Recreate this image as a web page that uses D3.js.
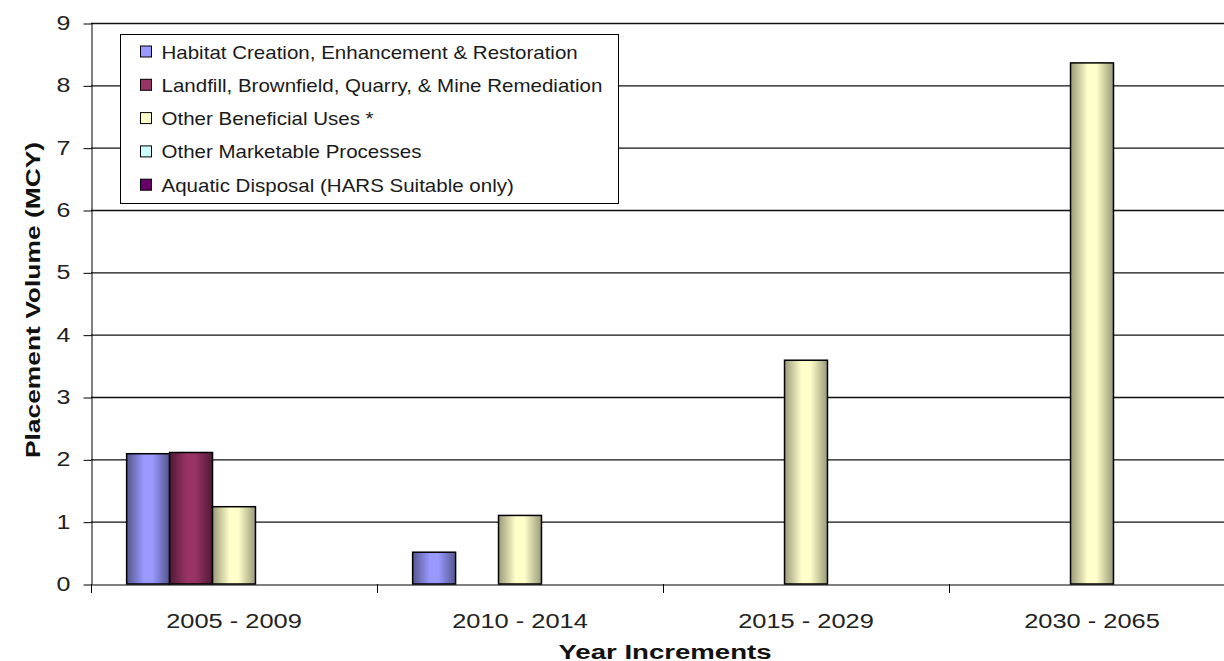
<!DOCTYPE html>
<html>
<head>
<meta charset="utf-8">
<script src="https://cdn.jsdelivr.net/npm/d3@7"></script>
<style>
  body { margin: 0; background: #fff; }
  svg { display: block; font-family: Arial, "Liberation Sans", sans-serif; }
</style>
</head>
<body>
<div id="chart"></div>
<script>
// categories and series
var categories = ["2005 - 2009", "2010 - 2014", "2015 - 2029", "2030 - 2065"];
var seriesNames = [
  "Habitat Creation, Enhancement & Restoration",
  "Landfill, Brownfield, Quarry, & Mine Remediation",
  "Other Beneficial Uses *",
  "Other Marketable Processes",
  "Aquatic Disposal (HARS Suitable only)"
];
var habitat = [2.09, 0.51, 0, 0];
var landfill = [2.11, 0, 0, 0];
var otherBeneficial = [1.24, 1.10, 3.59, 8.36];
var otherMarketable = [0, 0, 0, 0];
var aquatic = [0, 0, 0, 0];
var yTicks = [0, 1, 2, 3, 4, 5, 6, 7, 8, 9];

var seriesValues = [habitat, landfill, otherBeneficial, otherMarketable, aquatic];
var colors = ["#9999ff", "#993366", "#ffffcc", "#ccffff", "#660066"];
var edgeColors = ["#55558f", "#4f1a35", "#9a9a78", "#7a9999", "#330033"];

var svgWidth = 1224, svgHeight = 661;
var margin = { top: 23, left: 91 };
var plotBottom = 584;
var plotRight = 1235; // the last category runs past the picture's edge

var svg = d3.select("#chart").append("svg")
  .attr("width", svgWidth)
  .attr("height", svgHeight);

// the source text is rendered wider than Arial, so stretch it sideways
function stretch(sel, s) {
  sel.each(function () {
    var t = d3.select(this);
    var x = +t.attr("x") || 0;
    var prev = t.attr("transform") || "";
    t.attr("transform", `${prev} translate(${x * (1 - s)},0) scale(${s},1)`);
  });
}

// gradients to mimic the shaded bars
var defs = svg.append("defs");
colors.forEach(function (c, i) {
  var g = defs.append("linearGradient")
    .attr("id", "grad" + i)
    .attr("x1", "0%").attr("x2", "100%").attr("y1", "0%").attr("y2", "0%");
  g.append("stop").attr("offset", "0%").attr("stop-color", edgeColors[i]);
  g.append("stop").attr("offset", "40%").attr("stop-color", c);
  g.append("stop").attr("offset", "60%").attr("stop-color", c);
  g.append("stop").attr("offset", "100%").attr("stop-color", edgeColors[i]);
});

var y = d3.scaleLinear().domain([0, 9]).range([plotBottom, margin.top]);
var x0 = d3.scaleBand().domain(categories).range([margin.left, plotRight])
  .paddingInner(0).paddingOuter(0);
var x1 = d3.scaleBand().domain(d3.range(seriesNames.length))
  .range([0, x0.bandwidth()]).paddingOuter(0.83).paddingInner(0);

// gridlines
svg.append("g").selectAll("line")
  .data(yTicks.slice(1))
  .enter().append("line")
  .attr("x1", margin.left).attr("x2", plotRight)
  .attr("y1", d => y(d) + 0.5).attr("y2", d => y(d) + 0.5)
  .attr("stroke", "#111").attr("stroke-width", 1.3);

// y axis
var yAxis = svg.append("g")
  .attr("transform", `translate(${margin.left + 0.5},0)`)
  .call(d3.axisLeft(y).tickValues(yTicks).tickSize(8).tickPadding(13).tickSizeOuter(0));
yAxis.select(".domain").attr("stroke", "#000");
yAxis.selectAll(".tick line").attr("stroke", "#000").attr("transform", "translate(0,0.5)");
yAxis.selectAll("text")
  .attr("font-size", "20px").attr("fill", "#222")
  .attr("font-family", "Arial, 'Liberation Sans', sans-serif")
  .call(stretch, 1.25);

// bars
var groups = svg.append("g").selectAll("g")
  .data(categories)
  .enter().append("g")
  .attr("transform", d => `translate(${x0(d)},0)`);

groups.selectAll("rect")
  .data(function (d, ci) {
    return seriesValues.map(function (vals, si) { return { s: si, v: vals[ci] }; });
  })
  .enter()
  .filter(d => d.v > 0)
  .append("rect")
  .attr("x", d => x1(d.s))
  .attr("y", d => y(d.v))
  .attr("width", x1.bandwidth())
  .attr("height", d => y(0) - y(d.v))
  .attr("fill", d => `url(#grad${d.s})`)
  .attr("stroke", "#000")
  .attr("stroke-width", 1.5);

// x axis
var xAxis = svg.append("g")
  .attr("transform", `translate(0,${plotBottom + 0.5})`)
  .call(d3.axisBottom(x0).tickSize(0).tickPadding(29));
xAxis.select(".domain").attr("stroke", "#000");
xAxis.selectAll("text")
  .attr("font-size", "20px").attr("fill", "#222")
  .attr("font-family", "Arial, 'Liberation Sans', sans-serif")
  .call(stretch, 1.27);

// tick marks between categories
svg.append("g").selectAll("line")
  .data(categories)
  .enter().append("line")
  .attr("x1", d => Math.round(x0(d)) + 0.5).attr("x2", d => Math.round(x0(d)) + 0.5)
  .attr("y1", plotBottom).attr("y2", plotBottom + 9)
  .attr("stroke", "#000");

// axis titles
svg.append("text")
  .attr("transform", "translate(40,300) rotate(-90) scale(1.32,1)")
  .attr("text-anchor", "middle")
  .attr("font-size", "20px")
  .attr("font-weight", "bold")
  .attr("fill", "#111")
  .text("Placement Volume (MCY)");

svg.append("text")
  .attr("transform", "translate(665,659) scale(1.38,1)")
  .attr("text-anchor", "middle")
  .attr("font-size", "20px")
  .attr("font-weight", "bold")
  .attr("fill", "#111")
  .text("Year Increments");

// legend
var legend = svg.append("g").attr("transform", "translate(120.5,34.5)");
legend.append("rect")
  .attr("width", 498).attr("height", 169)
  .attr("fill", "#fff").attr("stroke", "#000");

var items = legend.selectAll("g.item")
  .data(seriesNames)
  .enter().append("g")
  .attr("class", "item")
  .attr("transform", (d, i) => `translate(0,${17 + i * 33.3})`);

items.append("rect")
  .attr("x", 20).attr("y", -5.5)
  .attr("width", 11).attr("height", 11)
  .attr("fill", (d, i) => colors[i])
  .attr("stroke", "#000");

items.append("text")
  .attr("x", 41)
  .attr("y", 7)
  .attr("font-size", "18px")
  .attr("fill", "#1a1a1a")
  .text(d => d)
  .call(stretch, 1.14);
</script>
</body>
</html>
